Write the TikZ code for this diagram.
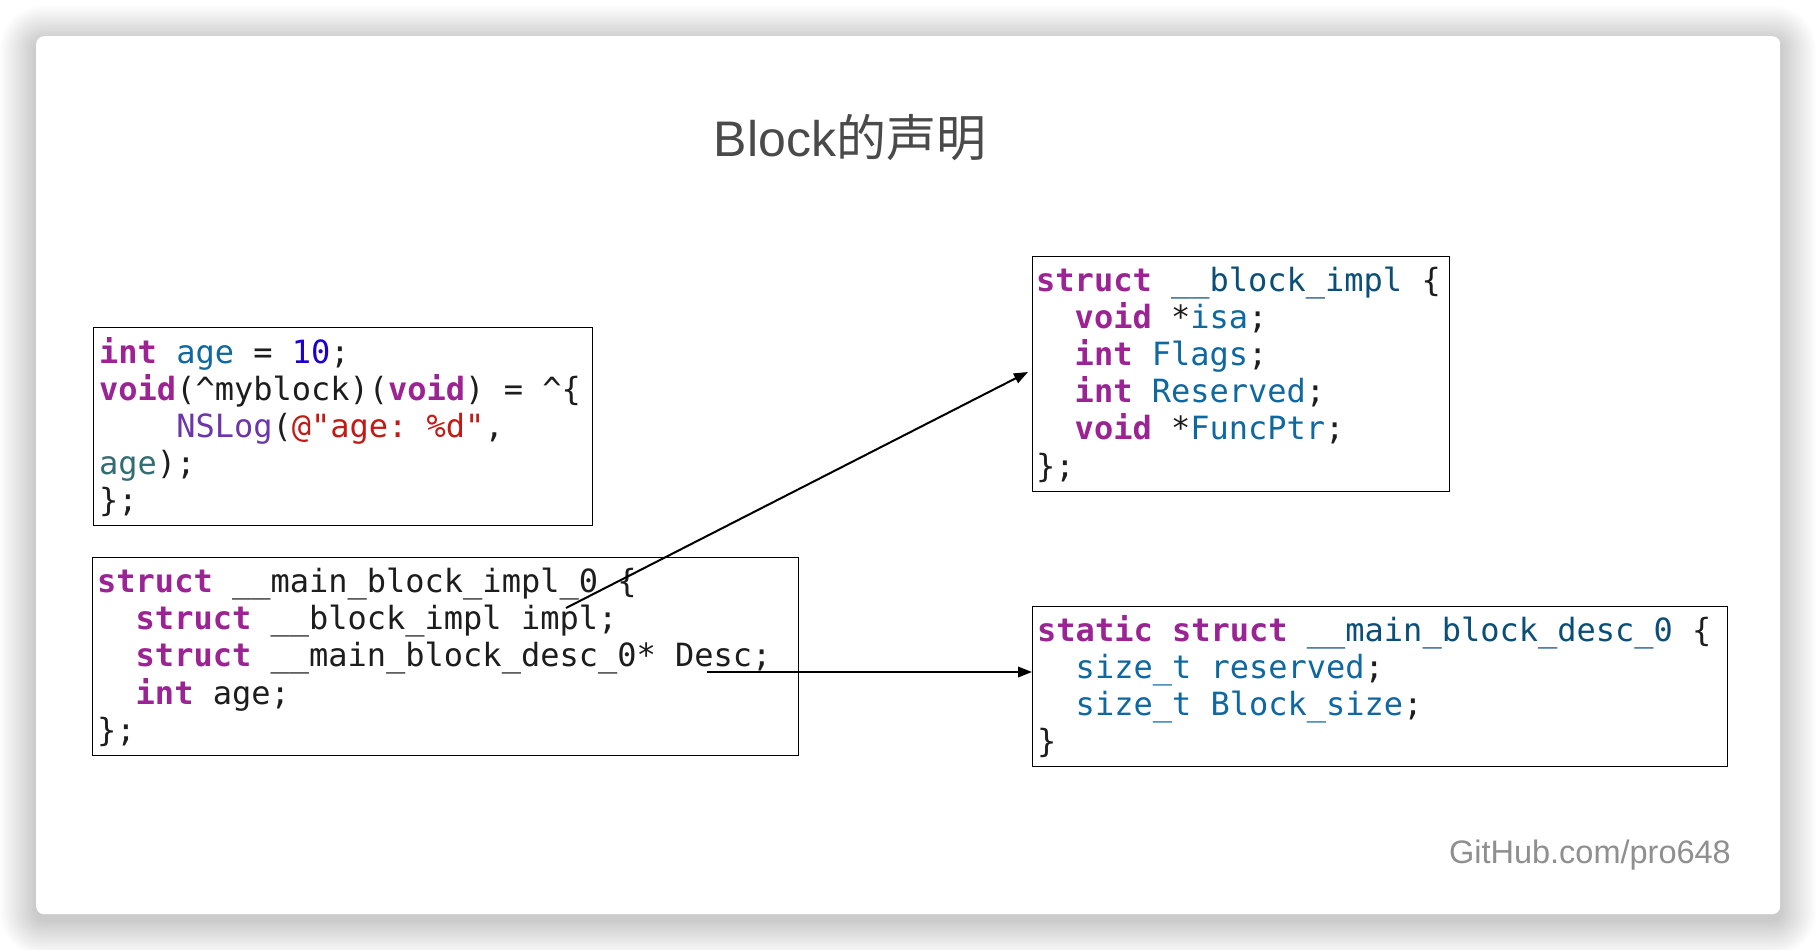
\documentclass[tikz,border=0pt]{standalone}
\usepackage{fontspec}
\setmonofont{DejaVu Sans Mono}
\newfontfamily\titlefont{Liberation Sans}
\newfontfamily\cjkfont{Noto Sans CJK SC}
\usetikzlibrary{arrows.meta}
\definecolor{kwc}{RGB}{155,35,147}
\definecolor{idc}{RGB}{15,104,160}
\definecolor{tyc}{RGB}{11,79,121}
\definecolor{numc}{RGB}{28,0,207}
\definecolor{fnc}{RGB}{108,54,169}
\definecolor{strc}{RGB}{196,26,22}
\definecolor{ivc}{RGB}{50,109,116}
\definecolor{txtc}{RGB}{29,29,29}
\definecolor{titlec}{RGB}{74,74,74}
\definecolor{markc}{RGB}{143,143,143}
\newcommand\kw[1]{{\bfseries\color{kwc}#1}}
\newcommand\idn[1]{{\color{idc}#1}}
\newcommand\tyn[1]{{\color{tyc}#1}}
\newcommand\numn[1]{{\color{numc}#1}}
\newcommand\fnn[1]{{\color{fnc}#1}}
\newcommand\strn[1]{{\color{strc}#1}}
\newcommand\ivn[1]{{\color{ivc}#1}}
\frenchspacing
\begin{document}
\begin{tikzpicture}[x=1pt,y=-1pt,
  box/.style={draw=black, line width=1.2pt, anchor=north west, inner sep=0pt},
  code/.style={anchor=base west, align=left, inner sep=0pt, text=txtc,
    font=\ttfamily\fontsize{32pt}{37.2pt}\selectfont},
  arr/.style={line width=2pt, draw=black, -{Triangle[length=14pt,width=10.5pt]}}]
\useasboundingbox (0,0) rectangle (1816,950);
% shadow
\foreach \i in {1,...,26}{
  \fill[black, opacity=0.0075, rounded corners=8+\i*1.4]
    (36-\i*1.4, 42-\i*1.4) rectangle (1780+\i*1.4, 920+\i*1.4);
}
% card
\node[fill=white, rounded corners=8pt, anchor=north west, inner sep=0pt,
  minimum width=1744pt, minimum height=878pt] (card) at (36,36) {};
% title
\node[anchor=base, inner sep=0pt, text=titlec,
  font=\fontsize{50pt}{60pt}\selectfont] (title) at (850,156)
  {\titlefont Block\cjkfont 的声明};
% boxes
\node[box, minimum width=499pt, minimum height=198pt] (b1) at (93,327) {};
\node[box, minimum width=706.5pt, minimum height=198pt] (b2) at (91.5,557) {};
\node[box, minimum width=417.5pt, minimum height=235pt] (b3) at (1031.5,256) {};
\node[box, minimum width=695pt, minimum height=160.5pt] (b4) at (1032,605.5) {};
% code (anchored at the baseline of the last line)
\node[code] (t1) at (99,511.8) {%
\kw{int} \idn{age} = \numn{10};\\
\kw{void}(\textasciicircum myblock)(\kw{void}) = \textasciicircum\{\\
\phantom{xxxx}\fnn{NSLog}(\strn{@"age: \%d"},\\
\ivn{age});\\
\};};
\node[code] (t2) at (97,741.3) {%
\kw{struct} \_\_main\_block\_impl\_0 \{\\
\phantom{xx}\kw{struct} \_\_block\_impl impl;\\
\phantom{xx}\kw{struct} \_\_main\_block\_desc\_0* Desc;\\
\phantom{xx}\kw{int} age;\\
\};};
\node[code] (t3) at (1036,477) {%
\kw{struct} \tyn{\_\_block\_impl} \{\\
\phantom{xx}\kw{void} *\idn{isa};\\
\phantom{xx}\kw{int} \idn{Flags};\\
\phantom{xx}\kw{int} \idn{Reserved};\\
\phantom{xx}\kw{void} *\idn{FuncPtr};\\
\};};
\node[code] (t4) at (1037,752.6) {%
\kw{static} \kw{struct} \tyn{\_\_main\_block\_desc\_0} \{\\
\phantom{xx}\idn{size\_t reserved};\\
\phantom{xx}\idn{size\_t Block\_size};\\
\}};
% watermark
\node[anchor=base east, inner sep=0pt, text=markc,
  font=\titlefont\fontsize{32.5pt}{38pt}\selectfont] (mark) at (1731,863)
  {GitHub.com/pro648};
% connectors
\coordinate (implref) at (566,608);
\coordinate (implend) at (1028,372);
\coordinate (descref) at (707,672);
\draw[arr] (implref) -- (implend);
\draw[arr] (descref) -- (b4.west |- descref);
\end{tikzpicture}
\end{document}
